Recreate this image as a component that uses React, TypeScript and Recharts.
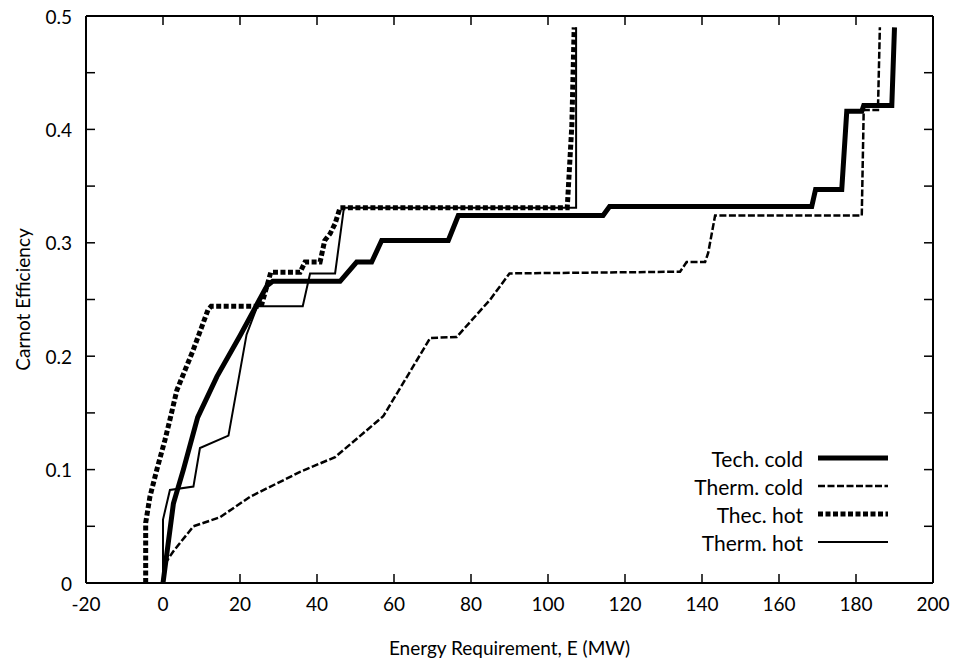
import React from 'react';
import { LineChart, Line, XAxis, YAxis } from 'recharts';

const FONT = 'Lato, "Open Sans", sans-serif';

// axis ticks
const xTicks = [-20, 0, 20, 40, 60, 80, 100, 120, 140, 160, 180, 200];
const yTicks = [0, 0.05, 0.1, 0.15, 0.2, 0.25, 0.3, 0.35, 0.4, 0.45, 0.5];

// Tech. cold (thick solid)
const techColdX = [0, 2.7, 5.3, 9, 14, 20, 27, 28.5, 46, 50.3, 54.2, 56.8, 74.1, 76.7, 114.3, 116, 168.5, 169.5, 176.3, 177.6, 181.5, 182, 189.3, 190];
const techColdY = [0, 0.07, 0.1, 0.146, 0.182, 0.218, 0.262, 0.266, 0.266, 0.283, 0.283, 0.302, 0.302, 0.324, 0.324, 0.332, 0.332, 0.347, 0.347, 0.416, 0.416, 0.421, 0.421, 0.49];

// Therm. cold (thin dashed)
const thermColdX = [0, 0.5, 2.7, 7.9, 14.8, 22.6, 35.6, 44.7, 57.2, 69.4, 76.3, 85, 90, 134.3, 136, 140.8, 141.6, 143.4, 181.5, 182, 185.7, 186.2];
const thermColdY = [0, 0.017, 0.028, 0.05, 0.058, 0.076, 0.098, 0.111, 0.147, 0.216, 0.217, 0.25, 0.273, 0.2745, 0.283, 0.283, 0.291, 0.324, 0.324, 0.417, 0.417, 0.49];

// Thec. hot (thick dotted)
const thecHotX = [-4.5, -4.5, -3.4, -1.6, 0.5, 1.8, 3.6, 7.8, 11.7, 12.5, 25.5, 28, 35.6, 36.9, 40.8, 42, 43.4, 44.7, 46, 105, 106.2, 106.8];
const thecHotY = [0, 0.053, 0.076, 0.1, 0.126, 0.144, 0.17, 0.205, 0.241, 0.244, 0.244, 0.274, 0.274, 0.283, 0.283, 0.302, 0.308, 0.317, 0.331, 0.331, 0.404, 0.49];

// Therm. hot (thin solid)
const thermHotX = [0, 0, 1.8, 7.9, 9.6, 17, 21.7, 24.5, 36.3, 38.2, 44.7, 47, 107.3, 107.3];
const thermHotY = [0, 0.056, 0.082, 0.085, 0.119, 0.13, 0.219, 0.244, 0.244, 0.273, 0.273, 0.331, 0.331, 0.49];

const toPoints = (xs: number[], ys: number[]) => xs.map((x, i) => ({ x, y: ys[i] }));

const series = [
  { name: 'Tech. cold', data: toPoints(techColdX, techColdY), width: 5, dash: undefined as string | undefined },
  { name: 'Therm. cold', data: toPoints(thermColdX, thermColdY), width: 2.5, dash: '7 2.5' },
  { name: 'Thec. hot', data: toPoints(thecHotX, thecHotY), width: 5, dash: '5 2.5' },
  { name: 'Therm. hot', data: toPoints(thermHotX, thermHotY), width: 2, dash: undefined },
];

const TICK_LEN = 9;

const BottomTick = ({ x, y, payload }: any) => (
  <g>
    <line x1={x} x2={x} y1={y} y2={y - TICK_LEN} stroke="#000" strokeWidth={1.5} />
    <text x={x} y={y + 28} textAnchor="middle" fontSize={19} fontFamily={FONT} fill="#000">
      {payload.value}
    </text>
  </g>
);

const TopTick = ({ x, y }: any) => (
  <line x1={x} x2={x} y1={y} y2={y + TICK_LEN} stroke="#000" strokeWidth={1.5} />
);

const LeftTick = ({ x, y, payload }: any) => {
  const v = payload.value as number;
  const major = Math.round(v * 100) % 10 === 0;
  return (
    <g>
      <line x1={x} x2={x + TICK_LEN} y1={y} y2={y} stroke="#000" strokeWidth={1.5} />
      {major && (
        <text x={x - 14} y={y} textAnchor="end" dominantBaseline="central" fontSize={19} fontFamily={FONT} fill="#000">
          {v === 0 ? '0' : v.toFixed(1)}
        </text>
      )}
    </g>
  );
};

const RightTick = ({ x, y }: any) => (
  <line x1={x} x2={x - TICK_LEN} y1={y} y2={y} stroke="#000" strokeWidth={1.5} />
);

const YTitle = ({ viewBox }: any) => {
  const cx = viewBox.x + 22;
  const cy = viewBox.y + viewBox.height / 2;
  return (
    <text x={cx} y={cy} transform={`rotate(-90 ${cx} ${cy})`} textAnchor="middle" dominantBaseline="central" fontSize={19} fontFamily={FONT} fill="#000">
      Carnot Efficiency
    </text>
  );
};

function LegendBox() {
  return (
    <svg width={953} height={665} style={{ position: 'absolute', left: 0, top: 0, pointerEvents: 'none' }}>
      {series.map((s, i) => {
        const y = 458 + i * 28;
        return (
          <g key={s.name}>
            <text x={803} y={y} textAnchor="end" dominantBaseline="central" fontSize={21} fontFamily={FONT} fill="#000">
              {s.name}
            </text>
            <line x1={818} x2={888} y1={y} y2={y} stroke="#000" strokeWidth={s.width} strokeDasharray={s.dash} />
          </g>
        );
      })}
    </svg>
  );
}

export default function App() {
  return (
    <div style={{ position: 'absolute', left: 0, top: 0, width: 953, height: 665, background: '#fff' }}>
      <LineChart width={953} height={665} margin={{ top: 0, right: 0, bottom: 0, left: 0 }}>
        <XAxis
          xAxisId="bottom"
          type="number"
          dataKey="x"
          domain={[-20, 200]}
          ticks={xTicks}
          interval={0}
          height={82}
          axisLine={{ stroke: '#000', strokeWidth: 2 }}
          tickLine={false}
          tickSize={0}
          tickMargin={0}
          tick={<BottomTick />}
          allowDataOverflow
          label={{ value: 'Energy Requirement, E (MW)', position: 'insideBottom', offset: 10, fontSize: 19, fill: '#000', fontFamily: FONT }}
        />
        <XAxis
          xAxisId="top"
          orientation="top"
          type="number"
          dataKey="x"
          domain={[-20, 200]}
          ticks={xTicks}
          interval={0}
          height={16}
          axisLine={{ stroke: '#000', strokeWidth: 2 }}
          tickLine={false}
          tickSize={0}
          tickMargin={0}
          tick={<TopTick />}
          allowDataOverflow
        />
        <YAxis
          yAxisId="left"
          type="number"
          dataKey="y"
          domain={[0, 0.5]}
          ticks={yTicks}
          interval={0}
          width={86}
          axisLine={{ stroke: '#000', strokeWidth: 2 }}
          tickLine={false}
          tickSize={0}
          tickMargin={0}
          tick={<LeftTick />}
          allowDataOverflow
          label={{ content: YTitle }}
        />
        <YAxis
          yAxisId="right"
          orientation="right"
          type="number"
          dataKey="y"
          domain={[0, 0.5]}
          ticks={yTicks}
          interval={0}
          width={20}
          axisLine={{ stroke: '#000', strokeWidth: 2 }}
          tickLine={false}
          tickSize={0}
          tickMargin={0}
          tick={<RightTick />}
          allowDataOverflow
        />
        {series.map((s) => (
          <Line
            key={s.name}
            xAxisId="bottom"
            yAxisId="left"
            data={s.data}
            dataKey="y"
            name={s.name}
            type="linear"
            stroke="#000"
            strokeWidth={s.width}
            strokeDasharray={s.dash}
            strokeLinejoin="miter"
            dot={false}
            activeDot={false}
            isAnimationActive={false}
          />
        ))}
      </LineChart>
      <LegendBox />
    </div>
  );
}
